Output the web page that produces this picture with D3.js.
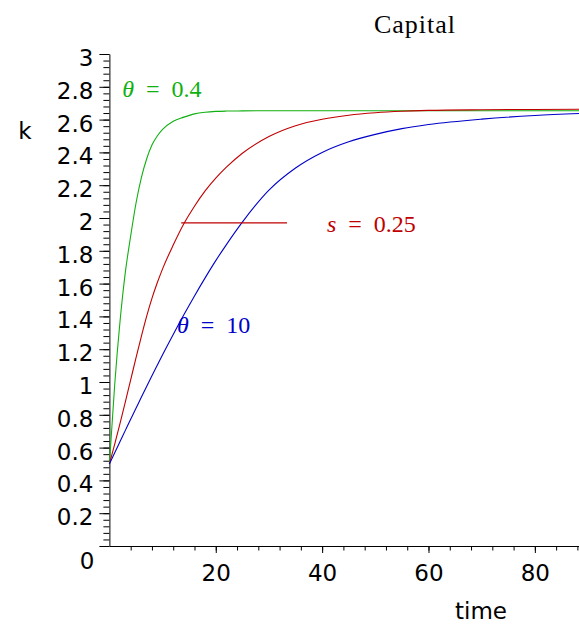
<!DOCTYPE html>
<html>
<head>
<meta charset="utf-8">
<script src="https://cdn.jsdelivr.net/npm/d3@7"></script>
<style>
    html, body { margin: 0; padding: 0; background: #fff; }
    svg { display: block; }
</style>
</head>
<body>
<svg id="chart" width="579" height="627"></svg>
<script>
// Time grid shared by the three curves
const times = [0, 1, 2, 3, 4, 5, 6, 7, 8, 9, 10, 12, 14, 16, 18, 20, 22, 25, 30, 35, 40, 45, 50, 55, 60, 70, 80, 89];

// k(t)
const kTheta04 = [0.5, 0.985, 1.37, 1.67, 1.89, 2.09, 2.245, 2.36, 2.445, 2.5, 2.54, 2.59, 2.615, 2.635, 2.645, 2.65, 2.652, 2.653, 2.654, 2.654, 2.654, 2.654, 2.654, 2.654, 2.654, 2.654, 2.654, 2.654];
const kS025 = [0.5, 0.621, 0.748, 0.879, 1.013, 1.147, 1.277, 1.4, 1.51, 1.605, 1.69, 1.835, 1.965, 2.072, 2.165, 2.243, 2.31, 2.395, 2.497, 2.563, 2.602, 2.627, 2.642, 2.651, 2.656, 2.66, 2.662, 2.663];
const kTheta10 = [0.5, 0.569, 0.637, 0.705, 0.773, 0.84, 0.907, 0.973, 1.038, 1.102, 1.166, 1.29, 1.41, 1.525, 1.635, 1.74, 1.838, 1.975, 2.17, 2.305, 2.4, 2.465, 2.51, 2.545, 2.57, 2.603, 2.625, 2.638];

// Axis ticks
const yTicks = [0, 0.2, 0.4, 0.6, 0.8, 1, 1.2, 1.4, 1.6, 1.8, 2, 2.2, 2.4, 2.6, 2.8, 3];
const xTicks = [20, 40, 60, 80];

// Legend segment for s = 0.25 (data coordinates)
const legendX = [13.5, 33.4];
const legendK = 1.97;

const GREEN = '#10b010';
const RED = '#c00000';
const BLUE = '#0000c8';

const svg = d3.select('#chart');

const x = d3.scaleLinear().domain([0, 88.3]).range([109.4, 579]);
const y = d3.scaleLinear().domain([0, 3]).range([546, 54]);

const sans = "'DejaVu Sans', sans-serif";
const serif = "'Liberation Serif', 'Times New Roman', serif";

// Minor ticks
svg.append('g')
    .attr('transform', `translate(${x(0)},0)`)
    .call(d3.axisLeft(y).tickValues(d3.range(0, 76).map(i => i * 0.04)).tickSize(6).tickSizeOuter(0).tickFormat(''))
    .call(g => g.select('.domain').remove());

svg.append('g')
    .attr('transform', `translate(0,${y(0)})`)
    .call(d3.axisBottom(x).tickValues(d3.range(4, 89, 4)).tickSize(4.5).tickSizeOuter(0).tickFormat(''))
    .call(g => g.select('.domain').remove());

// Major y axis
svg.append('g')
    .attr('transform', `translate(${x(0)},0)`)
    .call(d3.axisLeft(y).tickValues(yTicks).tickSize(10).tickSizeOuter(0).tickFormat(d => String(d)))
    .call(g => g.selectAll('text')
        .attr('dy', null)
        .attr('y', d => d === 0 ? 22 : 11.5)
        .attr('x', d => d === 0 ? -15 : -16)
        .style('font-family', sans)
        .style('font-size', '23px')
        .attr('fill', '#000'));

// Major x axis
svg.append('g')
    .attr('transform', `translate(0,${y(0)})`)
    .call(d3.axisBottom(x).tickValues(xTicks).tickSize(7).tickSizeOuter(0).tickFormat(d => String(d)))
    .call(g => g.selectAll('text')
        .attr('dy', null)
        .attr('y', 35)
        .style('font-family', sans)
        .style('font-size', '23px')
        .attr('fill', '#000'));

svg.selectAll('.domain, .tick line').attr('stroke', '#000').attr('stroke-width', 1);

// Axis titles
svg.append('text')
    .attr('x', 25).attr('y', 139)
    .attr('text-anchor', 'middle')
    .style('font-family', sans).style('font-size', '23px')
    .text('k');

svg.append('text')
    .attr('x', 481).attr('y', 619)
    .attr('text-anchor', 'middle')
    .style('font-family', sans).style('font-size', '23px')
    .text('time');

svg.append('text')
    .attr('x', 415).attr('y', 33)
    .attr('text-anchor', 'middle')
    .style('font-family', serif).style('font-size', '26px')
    .style('letter-spacing', '1px')
    .text('Capital');

// Curves
const line = d3.line()
    .x((d, i) => x(times[i]))
    .y(d => y(d))
    .curve(d3.curveMonotoneX);

[[kTheta04, GREEN], [kS025, RED], [kTheta10, BLUE]].forEach(([vals, color]) => {
    svg.append('path')
        .attr('d', line(vals))
        .attr('fill', 'none')
        .attr('stroke', color)
        .attr('stroke-width', 1.1);
});

// Legend segment
svg.append('line')
    .attr('x1', x(legendX[0])).attr('x2', x(legendX[1]))
    .attr('y1', y(legendK)).attr('y2', y(legendK))
    .attr('stroke', RED).attr('stroke-width', 1.1);

// Curve labels
function label(t, k, sym, rest, color) {
    const txt = svg.append('text')
        .attr('x', x(t)).attr('y', y(k))
        .attr('fill', color)
        .style('font-family', serif).style('font-size', '24px')
        .style('word-spacing', '6px');
    txt.append('tspan').style('font-style', 'italic').text(sym);
    txt.append('tspan').text(' = ' + rest);
}

label(2.4, 2.74, 'θ', '0.4', GREEN);
label(40.9, 1.917, 's', '0.25', RED);
label(12.7, 1.3, 'θ', '10', BLUE);
</script>
</body>
</html>
